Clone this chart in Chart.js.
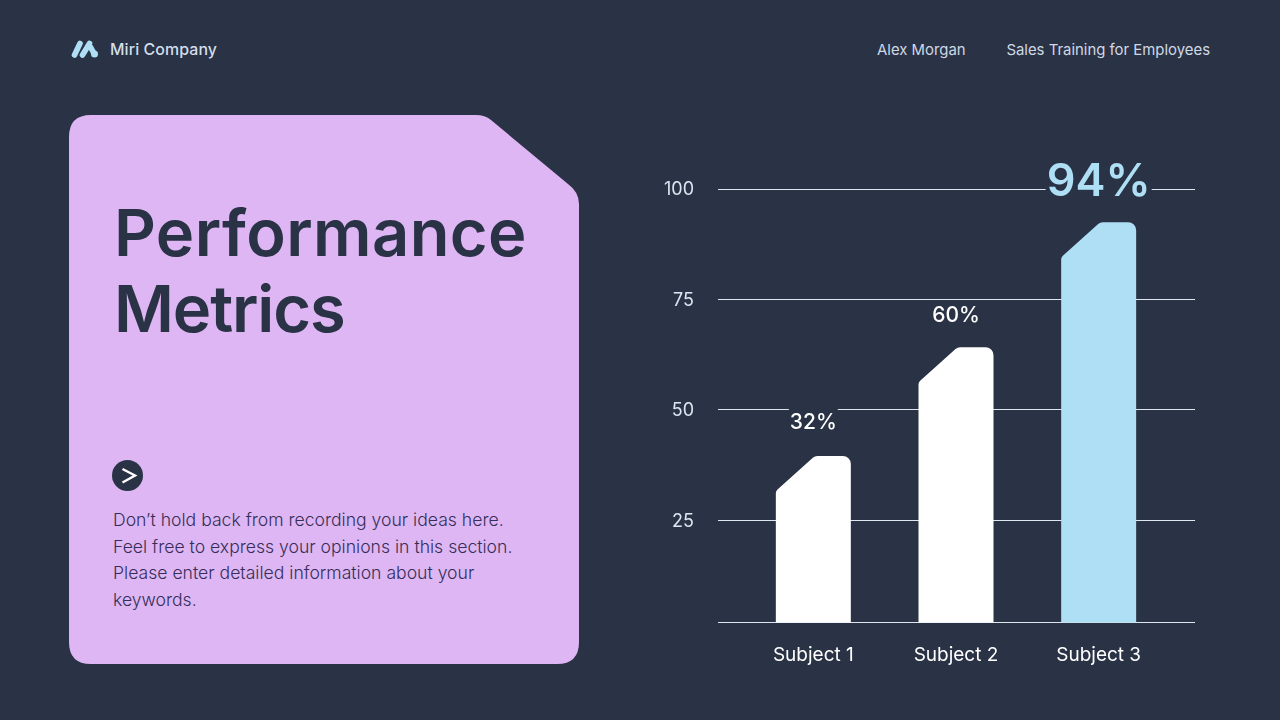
<!DOCTYPE html>
<html>
<head>
<meta charset="utf-8">
<title>Performance Metrics</title>
<script src="https://cdn.jsdelivr.net/npm/chart.js@4/dist/chart.umd.min.js"></script>
<style>
  html, body { margin: 0; padding: 0; }
  body { width: 1280px; height: 720px; background: #2a3245; overflow: hidden; position: relative; font-family: Inter, sans-serif; }
  .abs { position: absolute; white-space: nowrap; }
  #brand { left: 110px; top: 40.5px; font-size: 15.9px; line-height: 18px; font-weight: 500; color: #d3deea; letter-spacing: 0.1px; }
  #author { left: 877px; top: 40.5px; font-size: 14.9px; line-height: 18px; color: #cfd9e6; }
  #deck { right: 70px; top: 40.5px; font-size: 14.9px; line-height: 18px; color: #cfd9e6; }
  #title { left: 114px; top: 195px; font-size: 65px; line-height: 76px; font-weight: 600; color: #2a3245; letter-spacing: 0.4px; }
  #title span { letter-spacing: -1.1px; }
  #body { left: 113px; top: 507px; font-size: 17.6px; line-height: 26.5px; font-weight: 300; color: #352e5a; }
  #art { position: absolute; left: 0; top: 0; }
  #graph-wrap { position: absolute; left: 640px; top: 140px; width: 600px; height: 560px; }
</style>
</head>
<body>
<svg id="art" width="1280" height="720">
  <path fill="#deb6f3" d="M91 115 H476 Q485 115 491 120 L568 184 Q579 192 579 204 V642 Q579 664 557 664 H91 Q69 664 69 642 V137 Q69 115 91 115 Z"/>
  <g fill="none" stroke="#aedff5" stroke-width="5.6" stroke-linecap="round">
    <path d="M74.5 55 L80 43.5"/>
    <path d="M82.5 55 L89.5 43.5"/>
    <path d="M90.5 47 L93.5 52.5"/>
  </g>
  <circle cx="94.5" cy="54" r="3.5" fill="#aedff5"/>
  <circle cx="127.5" cy="475.5" r="15.5" fill="#2a3245"/>
  <path d="M122.5 469 L135 475.5 L122.5 482.5" fill="none" stroke="#ffffff" stroke-width="2.4"/>
</svg>

<div class="abs" id="brand">Miri Company</div>
<div class="abs" id="author">Alex Morgan</div>
<div class="abs" id="deck">Sales Training for Employees</div>
<div class="abs" id="title">Performance<br><span>Metrics</span></div>
<div class="abs" id="body">Don’t hold back from recording your ideas here.<br>Feel free to express your opinions in this section.<br>Please enter detailed information about your<br>keywords.</div>

<div id="graph-wrap"><canvas id="graph" width="600" height="560"></canvas></div>

<script>
const categories = ['Subject 1', 'Subject 2', 'Subject 3'];
// bar heights as drawn, they don't line up with the printed percentages
const barValues = [39.6, 64.2, 92.5];
const valueLabels = ['32%', '60%', '94%'];
const yTicks = [25, 50, 75, 100];
const yMin = 1.9;
const yMax = 100;

const WHITE = '#ffffff';
const BLUE = '#aedff5';
const BG = '#2a3245';
const barColors = [WHITE, WHITE, BLUE];
const labelColors = [WHITE, WHITE, BLUE];
const labelFonts = ['500 21px Inter', '500 21px Inter', '600 45px Inter'];
const labelOffsets = [33, 32, 40];

// baseline tick has no label, it only draws the bottom line
function setTicks(scale) {
  scale.ticks = [yMin].concat(yTicks).map(v => ({ value: v }));
}

function drawChamfer(ctx) {
  const { x, y, base, width } = this.getProps(['x', 'y', 'base', 'width']);
  const l = x - width / 2;
  const r = x + width / 2;
  ctx.beginPath();
  ctx.moveTo(l, base);
  ctx.arcTo(l, y + 35, l + 39, y, 5);
  ctx.arcTo(l + 39, y, r, y, 7);
  ctx.arcTo(r, y, r, base, 8);
  ctx.lineTo(r, base);
  ctx.closePath();
  ctx.fillStyle = this.options.backgroundColor;
  ctx.fill();
}

const chamferBars = {
  id: 'chamferBars',
  beforeDatasetsDraw(chart) {
    chart.getDatasetMeta(0).data.forEach(el => { el.draw = drawChamfer; });
  }
};

const barLabels = {
  id: 'barLabels',
  afterDatasetsDraw(chart) {
    const ctx = chart.ctx;
    ctx.save();
    ctx.textAlign = 'center';
    ctx.textBaseline = 'middle';
    chart.getDatasetMeta(0).data.forEach((el, i) => {
      const cy = el.y - labelOffsets[i];
      ctx.font = labelFonts[i];
      const w = ctx.measureText(valueLabels[i]).width;
      const h = i === 2 ? 40 : 28;
      // text sits on a background box so the grid line breaks behind it
      ctx.fillStyle = BG;
      ctx.fillRect(el.x - w / 2 - 1, cy - h / 2, w + 2, h);
      ctx.fillStyle = labelColors[i];
      ctx.fillText(valueLabels[i], el.x, cy);
    });
    ctx.restore();
  }
};

new Chart(document.getElementById('graph'), {
  type: 'bar',
  data: {
    labels: categories,
    datasets: [{
      data: barValues,
      backgroundColor: barColors,
      barThickness: 75,
      xAxisID: 'x',
      yAxisID: 'y'
    }]
  },
  plugins: [chamferBars, barLabels],
  options: {
    responsive: false,
    animation: false,
    layout: { autoPadding: false, padding: { top: 49, right: 45, left: 0, bottom: 0 } },
    plugins: { legend: { display: false }, tooltip: { enabled: false } },
    scales: {
      x: {
        offset: true,
        grid: { display: false },
        border: { display: false },
        ticks: { color: WHITE, font: { family: 'Inter', size: 19 }, padding: 13, maxRotation: 0 },
        afterFit: s => { s.height = 77.5; }
      },
      y: {
        position: 'left',
        min: yMin,
        max: yMax,
        afterBuildTicks: setTicks,
        grid: { color: '#dfe6ee', lineWidth: 1, tickLength: 24 },
        border: { display: false },
        ticks: {
          color: '#dbe6f0',
          font: { family: 'Inter', size: 18 },
          padding: 24,
          labelOffset: 1,
          callback: v => (yTicks.includes(v) ? v : '')
        },
        afterFit: s => { s.width = 102; }
      },
      // only here to carry the grid lines past the last bar
      yRight: {
        position: 'right',
        min: yMin,
        max: yMax,
        afterBuildTicks: setTicks,
        grid: { color: '#dfe6ee', lineWidth: 1, tickLength: 25, drawOnChartArea: false },
        border: { display: false },
        ticks: { display: false }
      }
    }
  }
});
</script>
</body>
</html>
